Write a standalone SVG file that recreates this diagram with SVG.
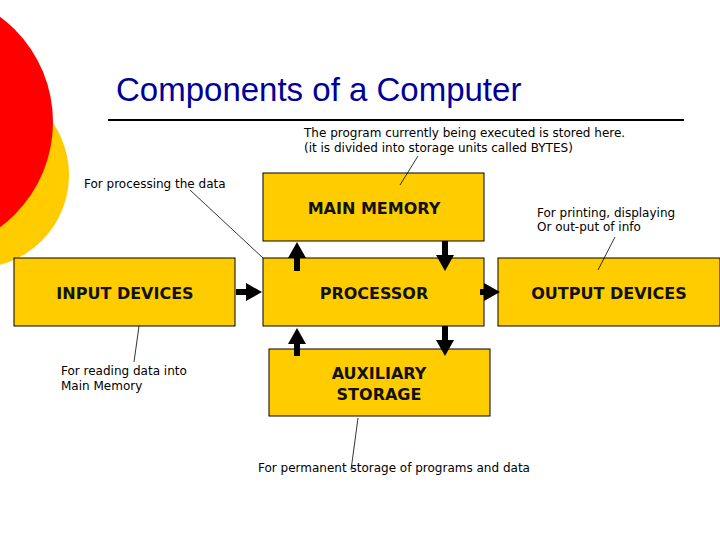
<svg xmlns="http://www.w3.org/2000/svg" width="720" height="540" viewBox="0 0 720 540">
<style>
.box{fill:#FFCC00;stroke:#000;stroke-width:1}
.lbl{font-family:"DejaVu Sans",Verdana,sans-serif;font-weight:bold;font-size:16px;fill:#111;text-anchor:middle}
.note{font-family:"DejaVu Sans",Verdana,sans-serif;font-size:12px;fill:#000}
.ln{stroke:#000;stroke-width:0.8;fill:none}
.ar{stroke:#000;stroke-width:6;fill:none;marker-end:url(#ah)}
</style>
<defs><marker id="ah" markerUnits="userSpaceOnUse" markerWidth="18" markerHeight="18" refX="0" refY="9" orient="auto" viewBox="0 0 18 18"><path d="M0,0 L16,9 L0,18 Z" fill="#000"/></marker></defs>
<rect width="720" height="540" fill="#fff"/>
<circle cx="-24" cy="175" r="93" fill="#FFCC00"/>
<circle cx="-78" cy="122" r="131" fill="#FF0000"/>
<text x="116" y="101" font-family="Liberation Sans,Arial,sans-serif" font-size="33" fill="#000099">Components of a Computer</text>
<line x1="108" y1="120" x2="684" y2="120" stroke="#000" stroke-width="2"/>
<g id="main"><rect class="box" x="263" y="173" width="221" height="68"/><text class="lbl" x="374" y="214">MAIN MEMORY</text></g>
<g id="proc"><rect class="box" x="263" y="258" width="221" height="68"/><text class="lbl" x="374" y="299">PROCESSOR</text></g>
<g id="input"><rect class="box" x="14" y="258" width="221" height="68"/><text class="lbl" x="125" y="299">INPUT DEVICES</text></g>
<g id="output"><rect class="box" x="498" y="258" width="222" height="68"/><text class="lbl" x="609" y="299">OUTPUT DEVICES</text></g>
<g id="aux"><rect class="box" x="269" y="349" width="221" height="67"/><text class="lbl" x="379" y="379">AUXILIARY</text><text class="lbl" x="379" y="400">STORAGE</text></g>
<g id="connectors">
<line class="ar" x1="297" y1="271" x2="297" y2="258"/>
<line class="ar" x1="445" y1="241" x2="445" y2="255"/>
<line class="ar" x1="236" y1="292" x2="246" y2="292"/>
<line class="ar" x1="480" y1="292" x2="484" y2="292"/>
<line class="ar" x1="297" y1="356" x2="297" y2="344"/>
<line class="ar" x1="445" y1="326" x2="445" y2="340"/>
<line class="ln" x1="418" y1="156" x2="400" y2="185"/>
<line class="ln" x1="190" y1="190" x2="263" y2="258"/>
<line class="ln" x1="615" y1="237" x2="598" y2="270"/>
<line class="ln" x1="139" y1="326" x2="134" y2="362"/>
<line class="ln" x1="358" y1="418" x2="351" y2="470"/>
</g>
<text class="note" x="304" y="137">The program currently being executed is stored here.</text>
<text class="note" x="304" y="152">(it is divided into storage units called BYTES)</text>
<text class="note" x="84" y="188">For processing the data</text>
<text class="note" x="537" y="217">For printing, displaying</text>
<text class="note" x="537" y="231">Or out-put of info</text>
<text class="note" x="61" y="375">For reading data into</text>
<text class="note" x="61" y="390">Main Memory</text>
<text class="note" x="258" y="472">For permanent storage of programs and data</text>
</svg>
